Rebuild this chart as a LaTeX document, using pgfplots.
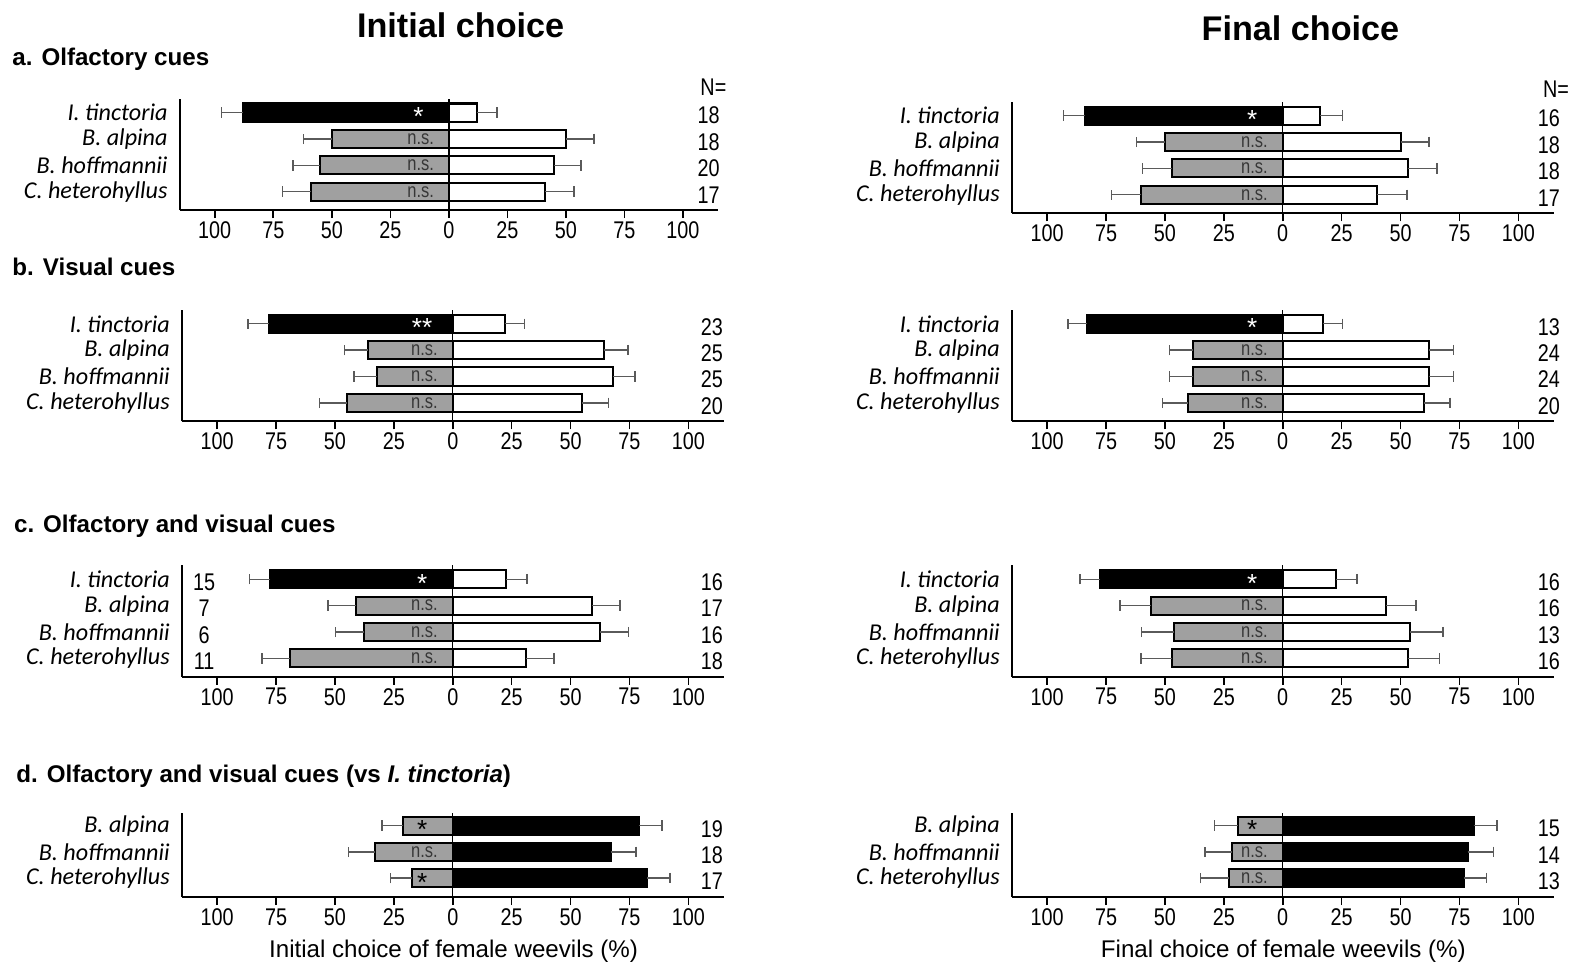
\documentclass[border=0pt]{standalone}
\usepackage{fontspec}
\setmainfont{Liberation Sans}
\newfontfamily\narrow[FakeStretch=0.82]{Liberation Sans}
\newfontfamily\calib{Carlito}
\usepackage{pgfplots}
\pgfplotsset{compat=1.18}
\definecolor{bargray}{RGB}{160,160,160}
\definecolor{errgray}{RGB}{90,90,90}
\definecolor{nsgray}{RGB}{55,55,55}
\pgfplotsset{
  panel/.style={
    scale only axis, width=269.4pt, height=55.5pt,
    xmin=-115, xmax=115, ymin=0.3, ymax=4.53,
    axis x line=bottom, axis y line=left,
    axis line style={-, line width=1pt},
    xtick={-100,-75,-50,-25,0,25,50,75,100},
    xticklabels={100,75,50,25,0,25,50,75,100},
    tick align=outside, major tick length=4pt,
    x tick style={black, line width=0.8pt},
    ytick={1,2,3,4},
    yticklabels={C. heterohyllus, B. hoffmannii, B. alpina, I. tinctoria},
    y tick style={draw=none},
    xticklabel style={font=\narrow\fontsize{12}{14}\selectfont, inner sep=0pt, yshift=-1.5pt},
    yticklabel style={font=\calib\itshape\fontsize{12}{14}\selectfont, inner sep=0pt, xshift=-1.8pt},
    /pgf/number format/assume math mode=true,
    xbar, bar shift=0pt, bar width=9pt, clip=false,
    error bars/error mark=|,
    error bars/error bar style={errgray, line width=0.7pt},
    error bars/error mark options={errgray, line width=0.7pt, mark size=2.6pt},
  },
  paneld/.style={panel, height=42pt, ymin=0.27, ymax=3.5, ytick={1,2,3},
    yticklabels={C. heterohyllus, B. hoffmannii, B. alpina}},
  lb/.style={fill=black, draw=black, line width=1pt, error bars/.cd, x dir=minus, x explicit},
  lg/.style={fill=bargray, draw=black, line width=1pt, error bars/.cd, x dir=minus, x explicit},
  rw/.style={fill=white, draw=black, line width=1pt, error bars/.cd, x dir=plus, x explicit},
  rb/.style={fill=black, draw=black, line width=1pt, error bars/.cd, x dir=plus, x explicit},
}
\tikzset{
  zl/.style={black, line width=0.7pt},
  ast/.style={text=white, font=\fontsize{13}{14}\selectfont, inner sep=0pt, yshift=-2pt},
  astb/.style={text=black, font=\fontsize{13}{14}\selectfont, inner sep=0pt, yshift=-2pt},
  ns/.style={text=nsgray, font=\narrow\fontsize{10}{12}\selectfont, inner sep=0pt},
  nn/.style={font=\narrow\fontsize{12}{14}\selectfont, inner sep=0pt, yshift=-1.5pt},
}
\begin{document}
\begin{tikzpicture}
\useasboundingbox (0,0) rectangle (784pt,-479pt);
% titles
\node[anchor=base, font=\bfseries\fontsize{17}{20}\selectfont] at (229pt,-18.5pt) {Initial choice};
\node[anchor=base, font=\bfseries\fontsize{17}{20}\selectfont] at (646.5pt,-20pt) {Final choice};
\node[anchor=base west, inner sep=0pt, font=\bfseries\fontsize{12}{14}\selectfont] at (6pt,-32.5pt) {a. Olfactory cues};
\node[anchor=base west, inner sep=0pt, font=\bfseries\fontsize{12}{14}\selectfont] at (6pt,-137pt) {b. Visual cues};
\node[anchor=base west, inner sep=0pt, font=\bfseries\fontsize{12}{14}\selectfont] at (6.8pt,-264.5pt) {c. Olfactory and visual cues};
\node[anchor=base west, inner sep=0pt, font=\bfseries\fontsize{12}{14}\selectfont] at (8pt,-389pt) {d. Olfactory and visual cues (vs \textit{I. tinctoria})};
\node[anchor=base, font=\fontsize{12}{14}\selectfont] at (225.5pt,-476pt) {Initial choice of female weevils (\%)};
\node[anchor=base, font=\fontsize{12}{14}\selectfont] at (638pt,-476pt) {Final choice of female weevils (\%)};

% ---- a left
\begin{axis}[panel, width=267.7pt, at={(89.3pt,-104.5pt)}, anchor=south west]
\addplot[lb] coordinates {(-88,4) -= (9,0)};
\addplot[lg] coordinates {(-50,3) -= (12,0) (-55,2) -= (11.5,0) (-59,1) -= (12,0)};
\addplot[rw] coordinates {(12,4) += (8.5,0) (50,3) += (12,0) (45,2) += (11.5,0) (41,1) += (12.5,0)};
\draw[zl] (axis cs:0,0.3) -- (axis cs:0,4.53);
\node[ast] at (axis cs:-13,4) {*};
\node[ns] at (axis cs:-12,3) {n.s.};
\node[ns] at (axis cs:-12,2) {n.s.};
\node[ns] at (axis cs:-12,1) {n.s.};
\node[nn] at (axis cs:111,4) {18};
\node[nn] at (axis cs:111,3) {18};
\node[nn] at (axis cs:111,2) {20};
\node[nn] at (axis cs:111,1) {17};
\node[nn] at (axis cs:113,5.07) {N=};
\end{axis}
% ---- a right
\begin{axis}[panel, at={(503pt,-106pt)}, anchor=south west]
\addplot[lb] coordinates {(-84,4) -= (9,0)};
\addplot[lg] coordinates {(-50,3) -= (12,0) (-47,2) -= (12.5,0) (-60,1) -= (12.7,0)};
\addplot[rw] coordinates {(16,4) += (9.4,0) (50,3) += (12,0) (53,2) += (12.5,0) (40,1) += (12.8,0)};
\draw[zl] (axis cs:0,0.3) -- (axis cs:0,4.53);
\node[ast] at (axis cs:-13,4) {*};
\node[ns] at (axis cs:-12,3) {n.s.};
\node[ns] at (axis cs:-12,2) {n.s.};
\node[ns] at (axis cs:-12,1) {n.s.};
\node[nn] at (axis cs:113,4) {16};
\node[nn] at (axis cs:113,3) {18};
\node[nn] at (axis cs:113,2) {18};
\node[nn] at (axis cs:113,1) {17};
\node[nn] at (axis cs:116,5.1) {N=};
\end{axis}
% ---- b left
\begin{axis}[panel, at={(90.4pt,-209.5pt)}, anchor=south west]
\addplot[lb] coordinates {(-78,4) -= (9,0)};
\addplot[lg] coordinates {(-36,3) -= (10,0) (-32,2) -= (10,0) (-45,1) -= (11.5,0)};
\addplot[rw] coordinates {(22,4) += (8.5,0) (64,3) += (10.4,0) (68,2) += (9.3,0) (55,1) += (11.2,0)};
\draw[zl] (axis cs:0,0.3) -- (axis cs:0,4.53);
\node[ast] at (axis cs:-13,4) {**};
\node[ns] at (axis cs:-12,3) {n.s.};
\node[ns] at (axis cs:-12,2) {n.s.};
\node[ns] at (axis cs:-12,1) {n.s.};
\node[nn] at (axis cs:110,4) {23};
\node[nn] at (axis cs:110,3) {25};
\node[nn] at (axis cs:110,2) {25};
\node[nn] at (axis cs:110,1) {20};
\end{axis}
% ---- b right
\begin{axis}[panel, at={(503pt,-209.5pt)}, anchor=south west]
\addplot[lb] coordinates {(-83,4) -= (8.2,0)};
\addplot[lg] coordinates {(-38,3) -= (10,0) (-38,2) -= (10,0) (-40,1) -= (11,0)};
\addplot[rw] coordinates {(17,4) += (8.4,0) (62,3) += (10.5,0) (62,2) += (10.4,0) (60,1) += (11,0)};
\draw[zl] (axis cs:0,0.3) -- (axis cs:0,4.53);
\node[ast] at (axis cs:-13,4) {*};
\node[ns] at (axis cs:-12,3) {n.s.};
\node[ns] at (axis cs:-12,2) {n.s.};
\node[ns] at (axis cs:-12,1) {n.s.};
\node[nn] at (axis cs:113,4) {13};
\node[nn] at (axis cs:113,3) {24};
\node[nn] at (axis cs:113,2) {24};
\node[nn] at (axis cs:113,1) {20};
\end{axis}
% ---- c left
\begin{axis}[panel, at={(90.4pt,-336.5pt)}, anchor=south west]
\addplot[lb] coordinates {(-77.5,4) -= (8.7,0)};
\addplot[lg] coordinates {(-41,3) -= (12,0) (-37.5,2) -= (12.4,0) (-69,1) -= (12,0)};
\addplot[rw] coordinates {(22.5,4) += (9,0) (59,3) += (12,0) (62.5,2) += (12,0) (31,1) += (12,0)};
\draw[zl] (axis cs:0,0.3) -- (axis cs:0,4.53);
\node[ast] at (axis cs:-13,4) {*};
\node[ns] at (axis cs:-12,3) {n.s.};
\node[ns] at (axis cs:-12,2) {n.s.};
\node[ns] at (axis cs:-12,1) {n.s.};
\node[nn] at (axis cs:110,4) {16};
\node[nn] at (axis cs:110,3) {17};
\node[nn] at (axis cs:110,2) {16};
\node[nn] at (axis cs:110,1) {18};
\node[nn] at (axis cs:-105.5,4) {15};
\node[nn] at (axis cs:-105.5,3) {7};
\node[nn] at (axis cs:-105.5,2) {6};
\node[nn] at (axis cs:-105.5,1) {11};
\end{axis}
% ---- c right
\begin{axis}[panel, at={(503pt,-336.5pt)}, anchor=south west]
\addplot[lb] coordinates {(-77.5,4) -= (8.6,0)};
\addplot[lg] coordinates {(-56,3) -= (13,0) (-46,2) -= (14,0) (-47,1) -= (13.2,0)};
\addplot[rw] coordinates {(22.5,4) += (9,0) (44,3) += (12.6,0) (54,2) += (14,0) (53,1) += (13.6,0)};
\draw[zl] (axis cs:0,0.3) -- (axis cs:0,4.53);
\node[ast] at (axis cs:-13,4) {*};
\node[ns] at (axis cs:-12,3) {n.s.};
\node[ns] at (axis cs:-12,2) {n.s.};
\node[ns] at (axis cs:-12,1) {n.s.};
\node[nn] at (axis cs:113,4) {16};
\node[nn] at (axis cs:113,3) {16};
\node[nn] at (axis cs:113,2) {13};
\node[nn] at (axis cs:113,1) {16};
\end{axis}
% ---- d left
\begin{axis}[paneld, at={(90.4pt,-446pt)}, anchor=south west]
\addplot[lg] coordinates {(-21,3) -= (9.1,0) (-33,2) -= (11.2,0) (-17.5,1) -= (9,0)};
\addplot[rb] coordinates {(79,3) += (9.8,0) (67,2) += (10.8,0) (82.5,1) += (9.7,0)};
\draw[zl] (axis cs:0,0.27) -- (axis cs:0,3.5);
\node[astb] at (axis cs:-13,3) {*};
\node[ns] at (axis cs:-12,2) {n.s.};
\node[astb] at (axis cs:-13,1) {*};
\node[nn] at (axis cs:110,3) {19};
\node[nn] at (axis cs:110,2) {18};
\node[nn] at (axis cs:110,1) {17};
\end{axis}
% ---- d right
\begin{axis}[paneld, at={(503pt,-446pt)}, anchor=south west]
\addplot[lg] coordinates {(-19,3) -= (10,0) (-21.5,2) -= (11.5,0) (-23,1) -= (11.8,0)};
\addplot[rb] coordinates {(81,3) += (10,0) (78.5,2) += (11,0) (77,1) += (9.5,0)};
\draw[zl] (axis cs:0,0.27) -- (axis cs:0,3.5);
\node[astb] at (axis cs:-13,3) {*};
\node[ns] at (axis cs:-12,2) {n.s.};
\node[ns] at (axis cs:-12,1) {n.s.};
\node[nn] at (axis cs:113,3) {15};
\node[nn] at (axis cs:113,2) {14};
\node[nn] at (axis cs:113,1) {13};
\end{axis}
\end{tikzpicture}
\end{document}
